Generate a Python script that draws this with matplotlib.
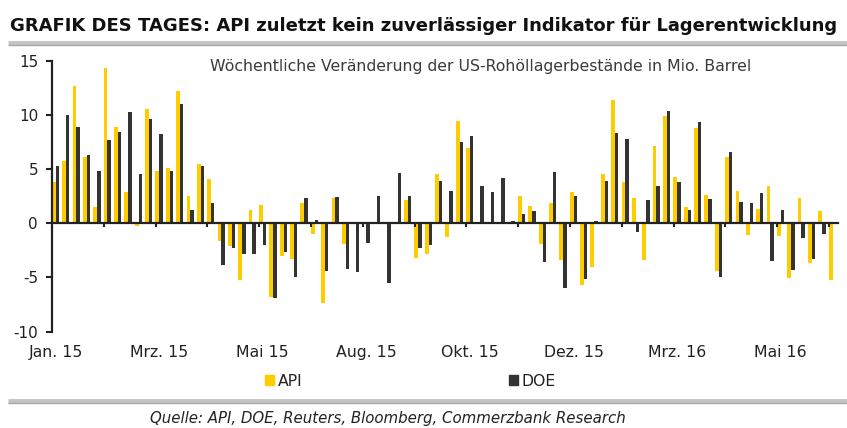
import numpy as np
import matplotlib
matplotlib.use("Agg")
from matplotlib import pyplot as plt
from matplotlib.lines import Line2D
from matplotlib.patches import Patch

# Weekly change in US crude stocks (mn barrel), Jan 2015 - Jun 2016
api = [3.8, 5.7, 12.7, 6.1, 1.5, 14.3, 8.9, 2.9, -0.3, 10.5,
       4.8, 5.1, 12.2, 2.5, 5.5, 4.1, -1.6, -2.1, -5.2, 1.2,
       1.7, -6.8, -3.0, -3.3, 1.9, -1.0, -7.4, 2.3, -1.9, np.nan,
       np.nan, np.nan, np.nan, np.nan, 2.1, -3.2, -2.8, 4.5, -1.3, 9.4,
       6.9, np.nan, np.nan, np.nan, np.nan, 2.5, 1.6, -1.9, 1.9, -3.4,
       2.9, -5.7, -4.0, 4.5, 11.4, 3.8, 2.3, -3.4, 7.1, 9.9,
       4.3, 1.5, 8.8, 2.6, -4.4, 6.1, 3.0, -1.1, 1.3, 3.4,
       -1.2, -5.1, 2.3, -3.7, 1.1, -5.2]
doe = [5.3, 10.0, 8.85, 6.3, 4.8, 7.7, 8.4, 10.3, 4.5, 9.6,
       8.2, 4.8, 11.0, 1.25, 5.3, 1.9, -3.9, -2.3, -2.8, -2.85,
       -2.0, -6.9, -2.7, -5.0, 2.3, 0.3, -4.4, 2.45, -4.2, -4.5,
       -1.8, 2.5, -5.5, 4.6, 2.5, -2.3, -2.0, 3.9, 3.0, 7.5,
       8.05, 3.4, 2.85, 4.15, 0.2, 0.85, 1.15, -3.6, 4.7, -6.0,
       2.55, -5.15, 0.2, 3.9, 8.35, 7.75, -0.8, 2.1, 3.4, 10.35,
       3.8, 1.25, 9.35, 2.2, -4.95, 6.55, 2.0, 1.9, 2.8, -3.5,
       1.25, -4.35, -1.4, -3.3, -1.0, np.nan]
month_labels = ["Jan. 15", "Mrz. 15", "Mai 15", "Aug. 15", "Okt. 15",
                "Dez. 15", "Mrz. 16", "Mai 16"]

YELLOW = "#FFCC00"
DARK = "#333333"
W, H = 847, 428

plt.rcParams['font.family'] = ['DejaVu Sans']
plt.rcParams['axes.unicode_minus'] = False


def fit_width(fig, txt, target_px):
    # scale font size so the text spans the wanted pixel width
    r = fig.canvas.get_renderer()
    w = txt.get_window_extent(renderer=r).width
    txt.set_fontsize(txt.get_fontsize() * target_px / w)


fig = plt.figure(figsize=(W / 100, H / 100), dpi=100)
ax = fig.add_axes([52 / W, 1 - 331.5 / H, 786 / W, 270.8 / H])

x = np.arange(len(api))
ax.bar(x - 0.18, api, width=0.37, color=YELLOW, linewidth=0)
ax.bar(x + 0.17, doe, width=0.33, color=DARK, linewidth=0)

ax.set_xlim(-0.35, len(api) - 0.47)
ax.set_ylim(-10, 15)
ax.set_yticks(np.arange(-10, 16, 5))
ax.tick_params(axis='y', direction='out', length=4, width=1.5,
               color='#222222', labelsize=11, labelcolor='#222222', pad=6)

for s in ['top', 'right']:
    ax.spines[s].set_visible(False)
ax.spines['left'].set_linewidth(1.6)
ax.spines['left'].set_color('#222222')
ax.spines['bottom'].set_position(('data', 0))
ax.spines['bottom'].set_linewidth(1.6)
ax.spines['bottom'].set_color('#222222')
ax.set_xticks(np.arange(5, len(api), 5) - 0.35)
ax.set_xticklabels([])
ax.tick_params(axis='x', direction='out', length=3, width=1.5, color='#222222')

# month labels sit below the plot area, not on the zero line
for i, lab in enumerate(month_labels):
    ax.text(i * 10, -0.076, lab, transform=ax.get_xaxis_transform(),
            ha='center', va='center', fontsize=11.3, color='#222222')

sub = fig.text(481 / W, 1 - 66 / H,
               "Wöchentliche Veränderung der US-Rohöllagerbestände in Mio. Barrel",
               ha='center', va='center', fontsize=10, color='#3a3a3a')
fit_width(fig, sub, 540)

title = fig.text(10 / W, 1 - 31 / H,
                 "GRAFIK DES TAGES: API zuletzt kein zuverlässiger Indikator für Lagerentwicklung",
                 ha='left', va='baseline', fontsize=13, fontweight='bold', color='#111111')
fit_width(fig, title, 828)

# grey rules under the title and above the source
for yy in (43, 401):
    fig.add_artist(Line2D([8 / W, 1], [1 - yy / H] * 2, transform=fig.transFigure,
                          color='#c4c4c4', lw=3.5, solid_capstyle='butt'))
    fig.add_artist(Line2D([8 / W, 1], [1 - (yy + 2) / H] * 2, transform=fig.transFigure,
                          color='#a8a8a8', lw=1.0, solid_capstyle='butt'))

for lab, col, xpos in [("API", YELLOW, 265), ("DOE", DARK, 509)]:
    leg = fig.legend([Patch(color=col)], [lab], loc='center left',
                     bbox_to_anchor=(xpos / W, 1 - 381 / H), frameon=False,
                     fontsize=11.3, handlelength=0.55, handleheight=0.55,
                     handletextpad=0.25, borderpad=0, borderaxespad=0,
                     labelcolor='#222222')

src = fig.text(388 / W, 1 - 419 / H,
               "Quelle: API, DOE, Reuters, Bloomberg, Commerzbank Research",
               ha='center', va='center', fontsize=10, style='italic', color='#222222')
fit_width(fig, src, 475)

fig.savefig("out.png", dpi=100)
